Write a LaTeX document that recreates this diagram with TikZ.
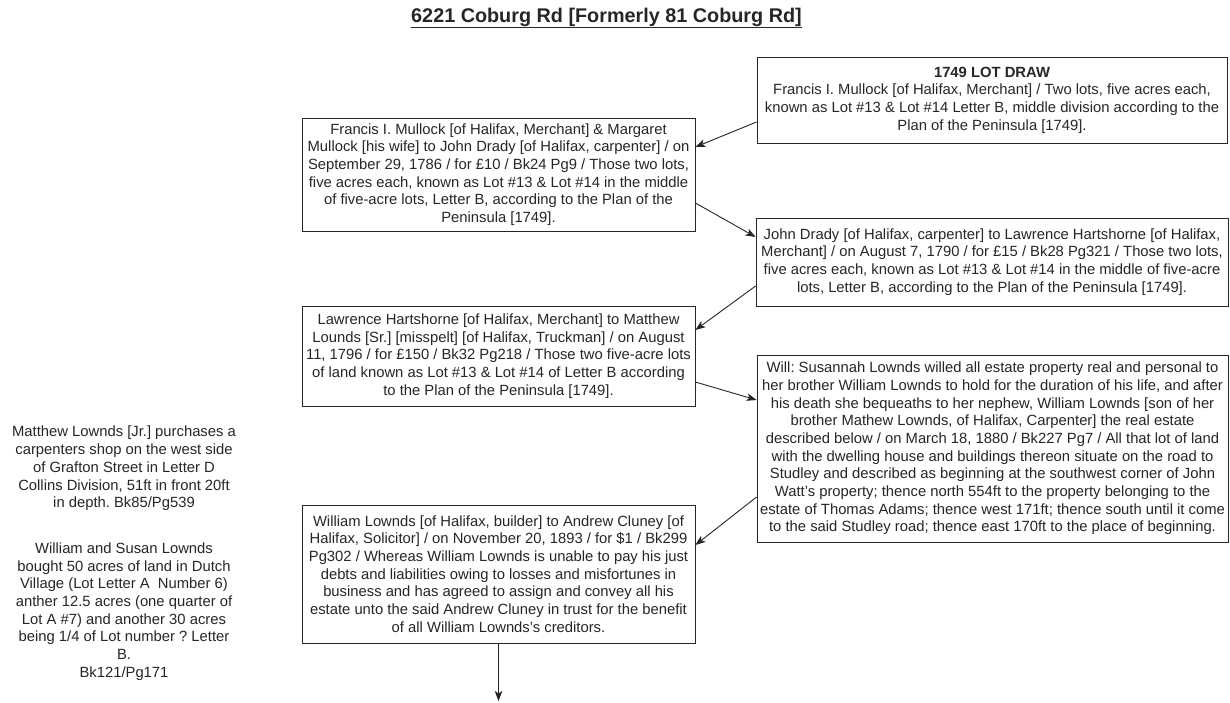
\documentclass[tikz,border=0pt]{standalone}
\usepackage{fontspec}
\setmainfont{Liberation Sans}
\usetikzlibrary{arrows.meta}
\frenchspacing
\tikzset{
	deed/.style={draw=black!85, line width=0.8pt, fill=white, align=center, inner sep=0pt, text=black!85, font=\fontsize{14.8}{17.7}\selectfont},
	note/.style={align=center, inner sep=0pt, text=black!85, font=\fontsize{14.8}{17.7}\selectfont},
	link/.style={draw=black!85, line width=0.9pt, -{Stealth[length=10pt,width=7.5pt,inset=2.5pt]}}
}

\begin{document}
\begin{tikzpicture}[x=1pt, y=-1pt]
		%%%%% START %%%%%
		\useasboundingbox[fill=white] (0, 0) rectangle (1230, 703);
		
		\node[inner sep=0pt, text=black!85, font=\fontsize{19.8}{22}\selectfont\bfseries] (title) at (606.5, 18) {\underline{6221 Coburg Rd [Formerly 81 Coburg Rd]}};
		
		\node[deed, minimum width=470pt, minimum height=86pt] (lotdraw) at (992, 100) {\textbf{1749 LOT DRAW}\\Francis I. Mullock [of Halifax, Merchant] / Two lots, five acres each,\\known as Lot \#13 \& Lot \#14 Letter B, middle division according to the\\Plan of the Peninsula [1749].};
		\node[deed, minimum width=393pt, minimum height=113pt] (mullock) at (498.5, 174.5) {Francis I. Mullock [of Halifax, Merchant] \& Margaret\\Mullock [his wife] to John Drady [of Halifax, carpenter] / on\\September 29, 1786 / for £10 / Bk24 Pg9 / Those two lots,\\five acres each, known as Lot \#13 \& Lot \#14 in the middle\\of five-acre lots, Letter B, according to the Plan of the\\Peninsula [1749].};
		\node[deed, minimum width=472pt, minimum height=88pt] (drady) at (992, 262) {John Drady [of Halifax, carpenter] to Lawrence Hartshorne [of Halifax,\\Merchant] / on August 7, 1790 / for £15 / Bk28 Pg321 / Those two lots,\\five acres each, known as Lot \#13 \& Lot \#14 in the middle of five-acre\\lots, Letter B, according to the Plan of the Peninsula [1749].};
		\node[deed, minimum width=393pt, minimum height=100pt] (hartshorne) at (498.5, 356) {Lawrence Hartshorne [of Halifax, Merchant] to Matthew\\Lounds [Sr.] [misspelt] [of Halifax, Truckman] / on August\\11, 1796 / for £150 / Bk32 Pg218 / Those two five-acre lots\\of land known as Lot \#13 \& Lot \#14 of Letter B according\\to the Plan of the Peninsula [1749].};
		\node[deed, minimum width=471pt, minimum height=187pt] (will) at (992.5, 448.5) {Will: Susannah Lownds willed all estate property real and personal to\\her brother William Lownds to hold for the duration of his life, and after\\his death she bequeaths to her nephew, William Lownds [son of her\\brother Mathew Lownds, of Halifax, Carpenter] the real estate\\described below / on March 18, 1880 / Bk227 Pg7 / All that lot of land\\with the dwelling house and buildings thereon situate on the road to\\Studley and described as beginning at the southwest corner of John\\Watt's property; thence north 554ft to the property belonging to the\\estate of Thomas Adams; thence west 171ft; thence south until it come\\to the said Studley road; thence east 170ft to the place of beginning.};
		\node[deed, minimum width=393pt, minimum height=138pt] (cluney) at (498.5, 574) {William Lownds [of Halifax, builder] to Andrew Cluney [of\\Halifax, Solicitor] / on November 20, 1893 / for \$1 / Bk299\\Pg302 / Whereas William Lownds is unable to pay his just\\debts and liabilities owing to losses and misfortunes in\\business and has agreed to assign and convey all his\\estate unto the said Andrew Cluney in trust for the benefit\\of all William Lownds's creditors.};
		
		\node[note] (shop) at (124, 468.5) {Matthew Lownds [Jr.] purchases a\\carpenters shop on the west side\\of Grafton Street in Letter D\\Collins Division, 51ft in front 20ft\\in depth. Bk85/Pg539};
		\node[note] (dutch) at (124, 611.5) {William and Susan Lownds\\bought 50 acres of land in Dutch\\Village (Lot Letter A\ \ Number 6)\\anther 12.5 acres (one quarter of\\Lot A \#7) and another 30 acres\\being 1/4 of Lot number ? Letter\\B.\\Bk121/Pg171};
		
		\coordinate (next) at (498.5, 701);
		
		\draw[link] ([yshift=-22pt]lotdraw.west) -- ([yshift=27.5pt]mullock.east);
		\draw[link] ([yshift=-28.5pt]mullock.east) -- ([yshift=25pt]drady.west);
		\draw[link] ([yshift=-24pt]drady.west) -- ([yshift=26pt]hartshorne.east);
		\draw[link] ([yshift=-26pt]hartshorne.east) -- ([yshift=48.5pt]will.west);
		\draw[link] ([yshift=-48.5pt]will.west) -- ([yshift=29pt]cluney.east);
		\draw[link] (cluney.south) -- (next);
		
		%%%%% END %%%%%
	\end{tikzpicture}
\end{document}
